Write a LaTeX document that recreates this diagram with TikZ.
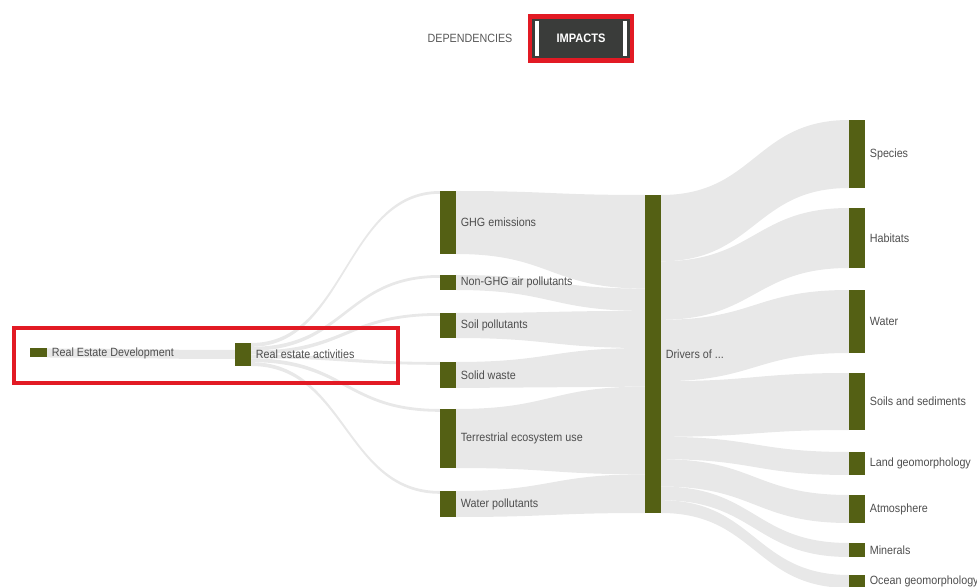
\documentclass[tikz,border=0pt]{standalone}
\usepackage{fontspec}
\setmainfont[FakeStretch=0.9]{Liberation Sans}
\usetikzlibrary{positioning,calc,backgrounds}

\def\pxu{0.02cm}
\definecolor{barolive}{RGB}{84,96,20}
\definecolor{flowgray}{RGB}{232,232,232}
\definecolor{tabred}{RGB}{226,26,36}
\definecolor{tabdark}{RGB}{58,60,58}
\definecolor{txtgray}{RGB}{78,78,78}

\tikzset{
	bar/.style={fill=barolive, inner sep=0pt, outer sep=0pt, minimum width=16*\pxu},
	lbl/.style={inner sep=0pt, text=txtgray, font=\fontsize{6.8}{8}\selectfont},
	flow/.style={fill=flowgray},
	hilite/.style={draw=tabred, line width=4.5*\pxu},
	tabtext/.style={text=black!65, font=\fontsize{6.8}{8}\selectfont},
	tabon/.style={fill=tabdark, text=white, inner sep=0pt, minimum width=98*\pxu, minimum height=40*\pxu, font=\bfseries\fontsize{7}{8}\selectfont}
}

% band between two vertical edges
\newcommand\sband[5]{\fill[flow] (#1) .. controls +(#5,0) and +(-#5,0) .. (#3) -- (#4) .. controls +(-#5,0) and +(#5,0) .. (#2) -- cycle;}

\begin{document}
\begin{tikzpicture}[x=0.02cm, y=-0.02cm]
	\useasboundingbox (0,0) rectangle (977,587);

	% tabs
	\node[tabtext] (dep) at (470,38) {DEPENDENCIES};
	\node[tabon] (imp) at (581,38.5) {IMPACTS};
	\draw[white, line width=3.5*\pxu] ($(imp.north west)+(5.5,3)$) -- ($(imp.south west)+(5.5,-3)$);
	\draw[white, line width=3.5*\pxu] ($(imp.north east)+(-5.5,3)$) -- ($(imp.south east)+(-5.5,-3)$);
	\draw[hilite] ($(imp.north west)+(-1.5,-1.5)$) rectangle ($(imp.south east)+(1.5,1.5)$);

	% left
	\node[bar, minimum width=17*\pxu, minimum height=9*\pxu] (red) at (38.5,353) {};
	\node[bar, minimum height=23*\pxu] (rea) at (243,354.5) {};
	\node[lbl, right=0.09cm of red] (red-t) {Real Estate Development};
	\node[lbl, right=0.09cm of rea] (rea-t) {Real estate activities};
	\draw[hilite] (14,328) rectangle (398,383);

	% pressures
	\node[bar, minimum height=63*\pxu] (ghg) at (448,222.5) {};
	\node[bar, minimum height=15*\pxu] (nonghg) at (448,282.5) {};
	\node[bar, minimum height=25*\pxu] (soil) at (448,325.5) {};
	\node[bar, minimum height=26*\pxu] (solid) at (448,375) {};
	\node[bar, minimum height=59*\pxu] (terr) at (448,438.5) {};
	\node[bar, minimum height=26*\pxu] (wpol) at (448,504) {};
	\node[lbl, right=0.09cm of ghg] (ghg-t) {GHG emissions};
	\node[lbl, right=0.09cm of nonghg] (nonghg-t) {Non-GHG air pollutants};
	\node[lbl, right=0.09cm of soil] (soil-t) {Soil pollutants};
	\node[lbl, right=0.09cm of solid] (solid-t) {Solid waste};
	\node[lbl, right=0.09cm of terr] (terr-t) {Terrestrial ecosystem use};
	\node[lbl, right=0.09cm of wpol] (wpol-t) {Water pollutants};

	\node[bar, minimum height=318*\pxu] (drv) at (653,354) {};
	\node[lbl, right=0.09cm of drv] (drv-t) {Drivers of ...};

	% natural capital
	\node[bar, minimum height=68*\pxu] (species) at (857,154) {};
	\node[bar, minimum height=60*\pxu] (habitats) at (857,238) {};
	\node[bar, minimum height=63*\pxu] (water) at (857,321.5) {};
	\node[bar, minimum height=57*\pxu] (soils) at (857,401.5) {};
	\node[bar, minimum height=23*\pxu] (land) at (857,463.5) {};
	\node[bar, minimum height=28*\pxu] (atmos) at (857,509) {};
	\node[bar, minimum height=14*\pxu] (minerals) at (857,550) {};
	\node[bar, minimum height=13*\pxu] (ocean) at (857,581.5) {};
	\node[lbl, right=0.09cm of species] (species-t) {Species};
	\node[lbl, right=0.09cm of habitats] (habitats-t) {Habitats};
	\node[lbl, right=0.09cm of water] (water-t) {Water};
	\node[lbl, right=0.09cm of soils] (soils-t) {Soils and sediments};
	\node[lbl, right=0.09cm of land] (land-t) {Land geomorphology};
	\node[lbl, right=0.09cm of atmos] (atmos-t) {Atmosphere};
	\node[lbl, right=0.09cm of minerals] (minerals-t) {Minerals};
	\node[lbl, right=0.09cm of ocean] (ocean-t) {Ocean geomorphology};

	\begin{pgfonlayer}{background}
		\sband{red.north east}{red.south east}{$(rea.west)+(0,-4.5)$}{$(rea.west)+(0,4.5)$}{90}
		\foreach \n/\a in {ghg/0, nonghg/3.83, soil/7.67, solid/11.5, terr/15.33, wpol/19.17}
			\sband{$(rea.north east)+(0,\a)$}{$(rea.north east)+(0,\a+3.83)$}{\n.north west}{$(\n.north west)+(0,2.8)$}{95};
		\foreach \n/\a/\b in {ghg/0/93.6, nonghg/93.6/115.9, soil/115.9/153, solid/153/191.6, terr/191.6/279.3, wpol/279.3/318}
			\sband{\n.north east}{\n.south east}{$(drv.north west)+(0,\a)$}{$(drv.north west)+(0,\b)$}{95};
		\foreach \n/\a/\b in {species/0/66.3, habitats/66.3/124.8, water/124.8/186.2, soils/186.2/241.8, land/241.8/264.2, atmos/264.2/291.5, minerals/291.5/305.2, ocean/305.2/318}
			\sband{$(drv.north east)+(0,\a)$}{$(drv.north east)+(0,\b)$}{\n.north west}{\n.south west}{94};
	\end{pgfonlayer}
\end{tikzpicture}
\end{document}
